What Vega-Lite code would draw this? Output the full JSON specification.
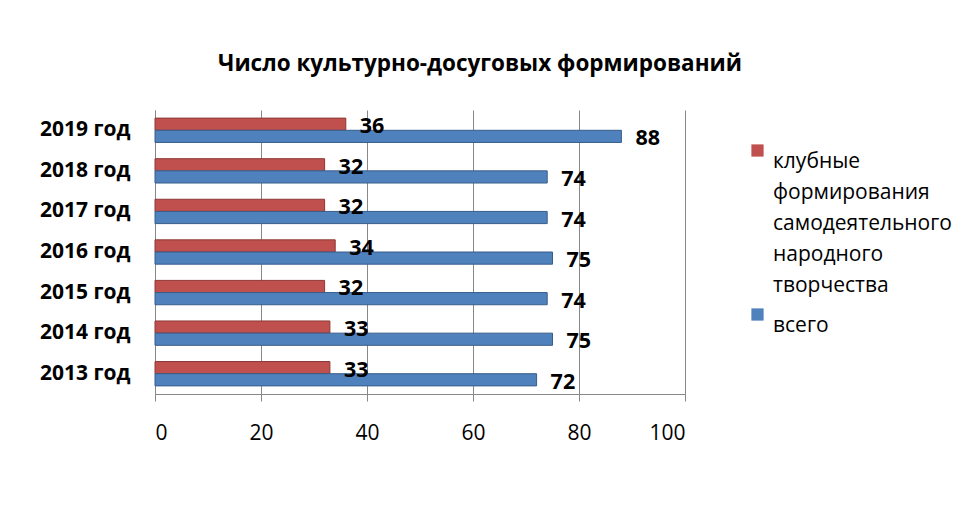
{
  "$schema": "https://vega.github.io/schema/vega-lite/v6.json",
  "width": 530,
  "height": 284,
  "autosize": "none",
  "padding": {"left": 155, "top": 110, "right": 275, "bottom": 116},
  "background": "white",
  "title": {
    "text": "Число культурно-досуговых формирований",
    "font": "Open Sans",
    "fontSize": 22.5,
    "fontWeight": "bold",
    "color": "black",
    "anchor": "middle",
    "dx": 60,
    "offset": 35
  },
  "data": {
    "values": [
      {"year": "2019 год", "series": "клубные формирования самодеятельного народного творчества", "value": 36},
      {"year": "2019 год", "series": "всего", "value": 88},
      {"year": "2018 год", "series": "клубные формирования самодеятельного народного творчества", "value": 32},
      {"year": "2018 год", "series": "всего", "value": 74},
      {"year": "2017 год", "series": "клубные формирования самодеятельного народного творчества", "value": 32},
      {"year": "2017 год", "series": "всего", "value": 74},
      {"year": "2016 год", "series": "клубные формирования самодеятельного народного творчества", "value": 34},
      {"year": "2016 год", "series": "всего", "value": 75},
      {"year": "2015 год", "series": "клубные формирования самодеятельного народного творчества", "value": 32},
      {"year": "2015 год", "series": "всего", "value": 74},
      {"year": "2014 год", "series": "клубные формирования самодеятельного народного творчества", "value": 33},
      {"year": "2014 год", "series": "всего", "value": 75},
      {"year": "2013 год", "series": "клубные формирования самодеятельного народного творчества", "value": 33},
      {"year": "2013 год", "series": "всего", "value": 72}
    ]
  },
  "encoding": {
    "y": {
      "field": "year",
      "type": "nominal",
      "sort": ["2019 год", "2018 год", "2017 год", "2016 год", "2015 год", "2014 год", "2013 год"],
      "scale": {"paddingInner": 0.4, "paddingOuter": 0.2},
      "axis": {
        "title": null,
        "labelFont": "Open Sans",
        "labelFontSize": 21,
        "labelFontWeight": "bold",
        "labelColor": "black",
        "labelPadding": 25,
        "ticks": false,
        "domainColor": "#888888"
      }
    },
    "yOffset": {
      "field": "series",
      "type": "nominal",
      "sort": ["клубные формирования самодеятельного народного творчества", "всего"]
    },
    "x": {
      "field": "value",
      "type": "quantitative",
      "scale": {"domain": [0, 100]},
      "axis": {
        "title": null,
        "values": [0, 20, 40, 60, 80, 100],
        "labelFont": "Open Sans",
        "labelFontSize": 21,
        "labelColor": "black",
        "labelPadding": 21,
        "tickColor": "#888888",
        "tickSize": 7,
        "domainColor": "#888888",
        "gridColor": "#888888",
        "gridWidth": 1
      }
    }
  },
  "layer": [
    {
      "mark": {"type": "bar", "strokeWidth": 1},
      "encoding": {
        "color": {
          "field": "series",
          "type": "nominal",
          "sort": ["клубные формирования самодеятельного народного творчества", "всего"],
          "scale": {"range": ["#C0504D", "#4F81BD"]},
          "legend": {
            "title": null,
            "orient": "none",
            "legendX": 592,
            "legendY": 30,
            "symbolType": "square",
            "symbolSize": 150,
            "symbolStrokeWidth": 0,
            "labelFont": "Open Sans",
            "labelFontSize": 21,
            "labelColor": "black",
            "labelLimit": 400,
            "labelBaseline": "top",
            "labelOffset": 5,
            "rowPadding": 8,
            "labelExpr": "datum.label == 'всего' ? 'всего' : ['клубные', 'формирования', 'самодеятельного', 'народного', 'творчества']"
          }
        },
        "stroke": {
          "field": "series",
          "type": "nominal",
          "sort": ["клубные формирования самодеятельного народного творчества", "всего"],
          "scale": {"range": ["#8C3836", "#385D8A"]},
          "legend": null
        }
      }
    },
    {
      "mark": {"type": "text", "align": "left", "dx": 14, "dy": 3, "font": "Open Sans", "fontSize": 21.5, "fontWeight": "bold", "color": "black"},
      "encoding": {
        "text": {"field": "value", "type": "quantitative"}
      }
    }
  ],
  "config": {
    "view": {"stroke": null},
    "style": {"guide-label": {"lineHeight": 31}}
  }
}
